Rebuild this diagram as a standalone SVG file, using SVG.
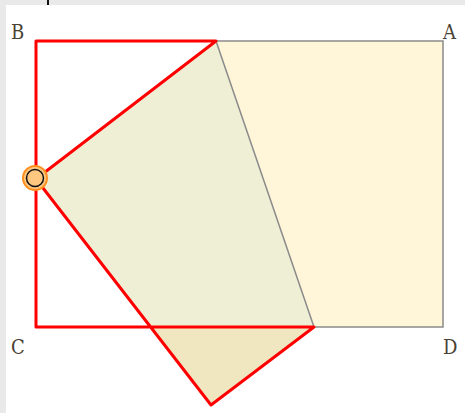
<svg xmlns="http://www.w3.org/2000/svg" width="465" height="413" viewBox="0 0 465 413">
<style>
.lbl{font-family:"DejaVu Serif","Liberation Serif",serif;font-stretch:condensed;font-size:20px;fill:#4a4232}
.gray{stroke:#8a8a8a;stroke-width:1.5;fill:none}
.red{stroke:#ff0000;stroke-width:3;fill:none;stroke-linejoin:round}
</style>
<rect x="0" y="0" width="465" height="413" fill="#e9e9e9"/>
<rect x="6" y="5" width="459" height="408" fill="#ffffff"/>
<rect x="47" y="0" width="2" height="5" fill="#111111"/>
<g id="regions">
<polygon id="cream" points="216,41 443,41 443,327 314,327" fill="#fff5d8"/>
<polygon id="green" points="216,41 36,179 151,327 314,327" fill="#efefd6"/>
<polygon id="tan" points="151,327 211,405 314,327" fill="#f0e7c0"/>
</g>
<g id="connectors">
<path class="gray" d="M216,41 L443,41 L443,327 L314,327"/>
<path class="gray" d="M216,41 L314,327"/>
<path class="red" d="M216,41 L36,41 L36,327 L314,327 L211,405 L36,179 Z"/>
</g>
<g id="E">
<circle cx="35" cy="178" r="12" fill="#ffc880" stroke="#ff9020" stroke-width="2"/>
<circle cx="35" cy="178" r="8.5" fill="none" stroke="#111111" stroke-width="1.5"/>
</g>
<g id="B"><text class="lbl" x="11" y="39">B</text></g>
<g id="A"><text class="lbl" x="443" y="39">A</text></g>
<g id="C"><text class="lbl" x="11" y="354">C</text></g>
<g id="D"><text class="lbl" x="443" y="354">D</text></g>
</svg>
